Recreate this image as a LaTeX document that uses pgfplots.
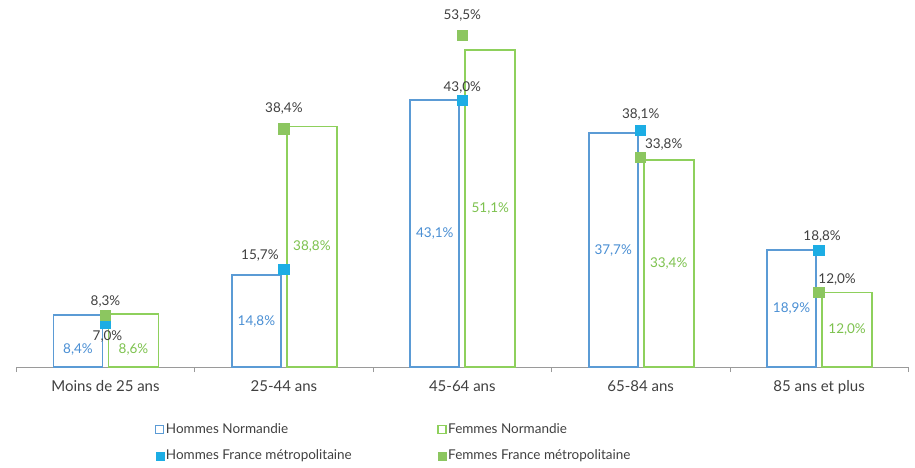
\documentclass[border=0pt]{standalone}
\usepackage{pgfplots}
\pgfplotsset{compat=1.18}
\usepackage{pgfplotstable}
\usepackage{fontspec}
\setmainfont{Lato}

\definecolor{hnBar}{HTML}{5B9BD5}
\definecolor{hnText}{HTML}{4A8FD4}
\definecolor{fnBar}{HTML}{8ED05C}
\definecolor{fnText}{HTML}{7DC24E}
\definecolor{hfMark}{HTML}{1CADE4}
\definecolor{ffMark}{HTML}{8CC660}
\definecolor{labelGray}{HTML}{404040}
\definecolor{axisGray}{HTML}{9A9A9A}

\newcommand{\chartfont}{\fontsize{13.5}{16}\selectfont}

% Normandie (bars): x = age group, y = share (%), dy = label offset (pt)
\pgfplotstableread{
x y dy
0 8.4 -9
1 14.8 0
2 43.1 0
3 37.7 0
4 18.9 0
}\hommesNormandie
\pgfplotstableread{
x y dy
0 8.6 -9
1 38.8 0
2 51.1 0
3 33.4 0
4 12.0 0
}\femmesNormandie
% France metropolitaine (markers): dx/dy = label offset from the marker (pt)
\pgfplotstableread{
x y dx dy
0 7.0 2 -12.5
1 15.7 -24 14
2 43.0 0 13
3 38.1 0 16
4 18.8 3 14
}\hommesFrance
\pgfplotstableread{
x y dx dy
0 8.3 0 14
1 38.4 0 20
2 53.5 0 20
3 33.8 23 13
4 12.0 18 13
}\femmesFrance

\pgfplotsset{
  pct/.style={nodes near coords={\pgfmathprintnumber[fixed, fixed zerofill, precision=1, use comma, assume math mode=true]{\pgfplotspointmeta}\%}},
}

\begin{document}
\begin{tikzpicture}
\begin{axis}[
  at={(0,0)}, anchor=origin,
  x=178.4pt, y=6.2pt,
  xmin=-0.5, xmax=4.5, ymin=0, ymax=58,
  clip=false,
  axis x line=bottom, axis y line=none,
  axis line style={-, draw=axisGray, line width=0.8pt},
  ytick=\empty,
  xtick={0,...,4},
  xticklabels={Moins de 25 ans, 25-44 ans, 45-64 ans, 65-84 ans, 85 ans et plus},
  minor xtick={-0.5,0.5,...,4.5},
  major tick length=0pt, minor tick length=5pt, tick align=outside,
  minor tick style={draw=axisGray, line width=0.8pt},
  xticklabel style={font=\fontsize{15}{18}\selectfont, text=labelGray, yshift=-10pt},
  legend columns=2,
  legend cell align=left,
  legend style={
    draw=none, fill=none,
    at={(0.152,-0.147)}, anchor=north west,
    font=\chartfont, text=labelGray,
    row sep=12pt,
    /tikz/every even column/.append style={column sep=84pt},
    nodes={inner sep=1.5pt},
  },
]
\addplot[ybar, bar width=49pt, bar shift=-27.5pt, draw=hnBar, fill=white, line width=1.7pt,
  pct,
  visualization depends on={\thisrow{y} \as \vy},
  visualization depends on={\thisrow{dy} \as \ddy},
  every node near coord/.append style={anchor=center, font=\chartfont, text=hnText,
    xshift=-27.5pt, yshift={(\ddy-\vy*3.1)*1pt}},
  legend image code/.code={\draw[hnBar, line width=1.4pt, fill=white] (0pt,-4pt) rectangle (8pt,4pt);}]
  table[x=x, y=y] {\hommesNormandie};
\addlegendentry{Hommes Normandie}
\addplot[ybar, bar width=50pt, bar shift=28pt, draw=fnBar, fill=white, line width=1.7pt,
  pct,
  visualization depends on={\thisrow{y} \as \vy},
  visualization depends on={\thisrow{dy} \as \ddy},
  every node near coord/.append style={anchor=center, font=\chartfont, text=fnText,
    xshift=28pt, yshift={(\ddy-\vy*3.1)*1pt}},
  legend image code/.code={\draw[fnBar, line width=1.4pt, fill=white] (0pt,-4pt) rectangle (8pt,4pt);}]
  table[x=x, y=y] {\femmesNormandie};
\addlegendentry{Femmes Normandie}
\addplot[only marks, mark=square*, mark size=5.2pt,
  mark options={draw=hfMark, fill=hfMark, line width=0pt},
  pct,
  visualization depends on={\thisrow{dx} \as \ddx},
  visualization depends on={\thisrow{dy} \as \ddy},
  every node near coord/.append style={anchor=center, font=\chartfont, text=labelGray,
    xshift={\ddx*1pt}, yshift={\ddy*1pt}},
  legend image code/.code={\fill[hfMark] (0pt,-4pt) rectangle (8pt,4pt);}]
  table[x=x, y=y] {\hommesFrance};
\addlegendentry{Hommes France métropolitaine}
\addplot[only marks, mark=square*, mark size=5.2pt,
  mark options={draw=ffMark, fill=ffMark, line width=0pt},
  pct,
  visualization depends on={\thisrow{dx} \as \ddx},
  visualization depends on={\thisrow{dy} \as \ddy},
  every node near coord/.append style={anchor=center, font=\chartfont, text=labelGray,
    xshift={\ddx*1pt}, yshift={\ddy*1pt}},
  legend image code/.code={\fill[ffMark] (0pt,-4pt) rectangle (8pt,4pt);}]
  table[x=x, y=y] {\femmesFrance};
\addlegendentry{Femmes France métropolitaine}
\end{axis}
\pgfresetboundingbox
\path (-105.5pt,-101pt) rectangle (809.5pt,367pt);
\end{tikzpicture}
\end{document}
